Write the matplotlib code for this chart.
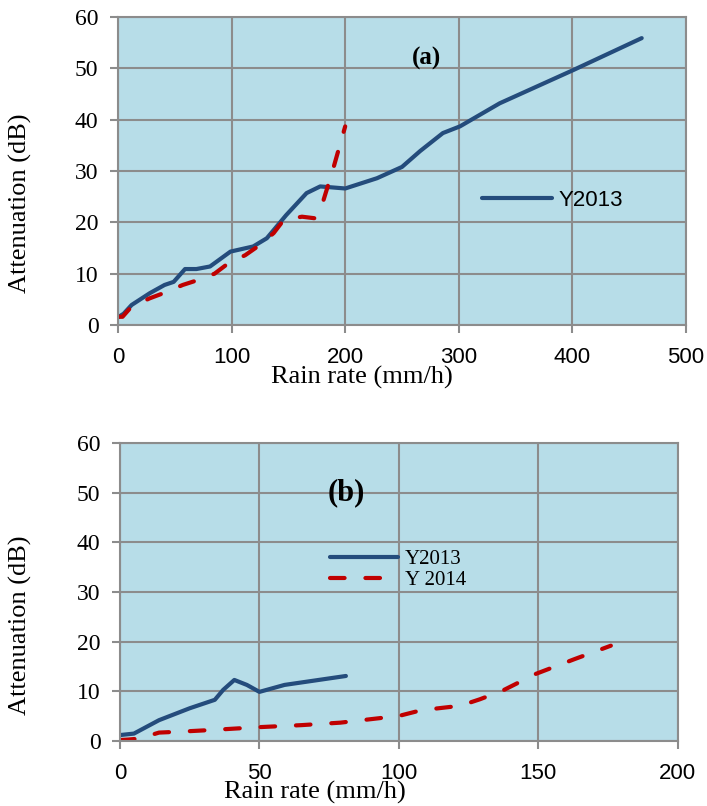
import matplotlib
matplotlib.use("Agg")
import matplotlib.pyplot as plt

# (a) data
a_x13 = [0, 5, 12, 28, 41, 49, 59, 69, 81, 99, 119, 131, 148, 166, 178, 200, 228, 250, 266, 286, 301, 336, 401, 461]
a_y13 = [1.5, 2.2, 3.9, 6.2, 7.8, 8.4, 10.9, 10.9, 11.4, 14.3, 15.3, 16.9, 21.4, 25.7, 27.0, 26.6, 28.6, 30.8, 33.9, 37.4, 38.7, 43.2, 49.7, 55.9]
a_x14 = [0, 4, 12, 28, 40, 57, 71, 85, 97, 112, 123, 137, 146, 162, 173, 181, 190, 200]
a_y14 = [1.6, 1.6, 3.6, 5.2, 6.2, 7.8, 8.8, 10.0, 12.0, 13.6, 15.3, 17.9, 20.5, 21.1, 20.8, 24.4, 30.9, 38.7]

# (b) data
b_x13 = [0, 5, 14, 25, 34, 37, 41, 45.5, 50, 59, 81]
b_y13 = [1.2, 1.5, 4.2, 6.6, 8.3, 10.3, 12.3, 11.3, 9.9, 11.3, 13.1]
b_x14 = [0, 3, 7, 14, 22, 32, 50, 65, 79, 93, 101, 108, 122, 129, 137, 149, 163, 176]
b_y14 = [0.2, 0.3, 0.5, 1.7, 1.9, 2.2, 2.8, 3.2, 3.7, 4.6, 5.2, 6.2, 7.1, 8.4, 10.1, 13.5, 16.5, 19.2]

blue = '#244C7C'
red = '#C00000'
bg = '#B7DDE8'
gridc = '#8C8C8C'
sans = 'Liberation Sans'
serif = 'Liberation Serif'

fig = plt.figure(figsize=(7.07, 8.06), dpi=100)
ax1 = fig.add_axes([0.1669, 0.5968, 0.8034, 0.382])
ax2 = fig.add_axes([0.1697, 0.0806, 0.789, 0.3697])

def style(ax, xmax, xstep, xlab_pos, ylab_pos):
    ax.set_facecolor(bg)
    ax.set_xlim(0, xmax)
    ax.set_ylim(0, 60)
    ax.set_xticks(range(0, xmax + 1, xstep))
    ax.set_yticks(range(0, 61, 10))
    ax.grid(True, color=gridc, linewidth=1.5)
    ax.set_axisbelow(True)
    for s in ax.spines.values():
        s.set_color(gridc)
        s.set_linewidth(1.5)
    ax.tick_params(colors=gridc, length=6, width=1.5, labelcolor='black')
    ax.tick_params(axis='x', pad=10)
    ax.tick_params(axis='y', pad=8)
    for lab in ax.get_xticklabels():
        lab.set_fontfamily(sans)
        lab.set_fontsize(16)
    for lab in ax.get_yticklabels():
        lab.set_fontfamily(serif)
        lab.set_fontsize(17)
    xl = ax.set_xlabel('Rain rate (mm/h)', fontfamily=serif, fontsize=19)
    xl.set_va('center')
    ax.xaxis.set_label_coords(*xlab_pos)
    yl = ax.set_ylabel('Attenuation (dB)', fontfamily=serif, fontsize=19)
    yl.set_va('center')
    ax.yaxis.set_label_coords(*ylab_pos)

style(ax1, 500, 100, (0.43, -0.169), (-0.1725, 0.396))
style(ax2, 200, 50, (0.35, -0.174), (-0.179, 0.39))

l1, = ax1.plot(a_x13, a_y13, color=blue, linewidth=3, solid_capstyle='round', label='Y2013')
ax1.plot(a_x14, a_y14, color=red, linewidth=3, dashes=(3.5, 5), dash_capstyle='round')
ax1.legend(handles=[l1], loc='center left', bbox_to_anchor=(0.641, 0.405), frameon=False,
           prop={'family': sans, 'size': 16}, handlelength=3.15, handletextpad=0.3,
           borderpad=0, borderaxespad=0)
ax1.text(272, 52, '(a)', fontfamily=serif, fontweight='bold', fontsize=18, ha='center', va='center')

ax2.plot(b_x13, b_y13, color=blue, linewidth=3, solid_capstyle='round', label='Y2013')
ax2.plot(b_x14, b_y14, color=red, linewidth=3, dashes=(3.5, 5), dash_capstyle='round', label='Y 2014')
ax2.legend(loc='center left', bbox_to_anchor=(0.376, 0.575), frameon=False,
           prop={'family': serif, 'size': 15}, handlelength=3.3, handletextpad=0.3,
           labelspacing=0.05, borderpad=0, borderaxespad=0)
ax2.text(81, 50, '(b)', fontfamily=serif, fontweight='bold', fontsize=22, ha='center', va='center')

fig.savefig('out.png', dpi=100)
